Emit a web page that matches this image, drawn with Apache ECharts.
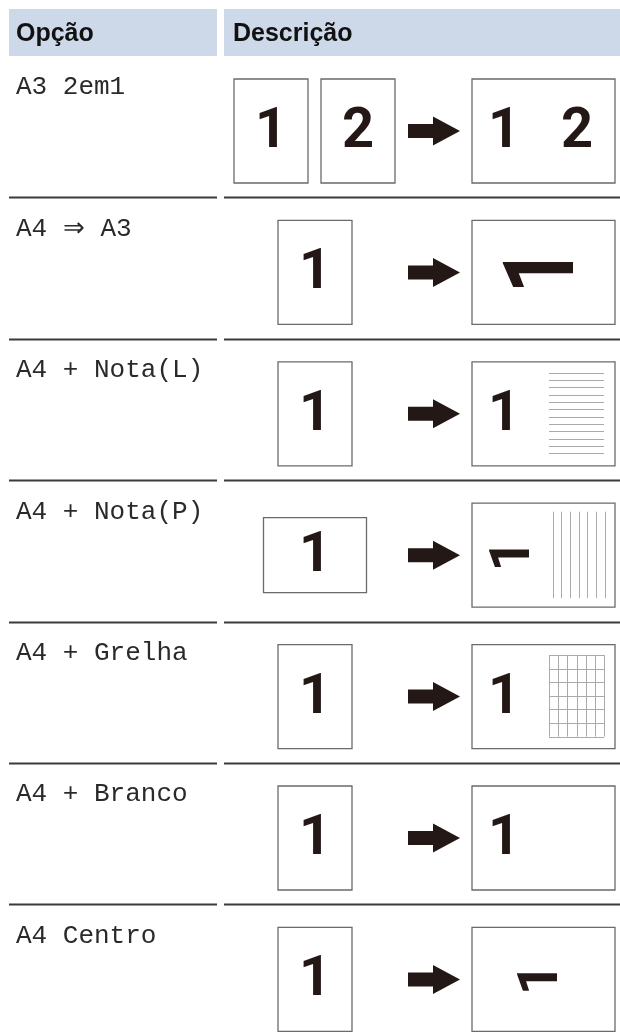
<!DOCTYPE html>
<html><head><meta charset="utf-8">
<script src="https://cdn.jsdelivr.net/npm/echarts@6/dist/echarts.min.js"></script>
<style>html,body{margin:0;padding:0;background:#fff}#c{width:620px;height:1036px}</style>
</head><body><div id="c"></div>
<script>
// ---- content ----
const headers = ['Opção', 'Descrição'];
const options = ['A3 2em1', 'A4 ⇒ A3', 'A4 + Nota(L)', 'A4 + Nota(P)', 'A4 + Grelha', 'A4 + Branco', 'A4 Centro'];
const inputPages = [['1', '2'], ['1'], ['1'], ['1'], ['1'], ['1'], ['1']];
const inputOrient = ['portrait', 'portrait', 'portrait', 'landscape', 'portrait', 'portrait', 'portrait'];
const outputKind = ['twoInOne', 'enlarged', 'noteL', 'noteP', 'grid', 'blank', 'centre'];
const outputDigits = [['1', '2'], ['1'], ['1'], ['1'], ['1'], ['1'], ['1']];
const noteLineCount = { noteL: 12, noteP: 7 };
const gridCells = { cols: 6, rows: 6 };

// ---- layout / style constants ----
const HEAD = { top: 9, bottom: 56, leftX: 9, leftW: 208, rightX: 224, rightW: 396 };
const ROW_H = 141.4;
const INK = '#231815';
const BOX_STROKE = '#6a6a6a';
const SEP = '#3a3a3a';
const HEAD_FILL = '#cdd8e9';
const SANS = 'Liberation Sans';
const DIGITS = 'Roboto';
const MONO = 'Liberation Mono';

const els = [];
function rect(x, y, w, h, style) { els.push({ type: 'rect', shape: { x, y, width: w, height: h }, style }); }
function line(x1, y1, x2, y2, style) { els.push({ type: 'line', shape: { x1, y1, x2, y2 }, style }); }
function text(t, x, y, fam, size, weight, fill, align, opts) {
  const e = Object.assign({
    type: 'text', x, y,
    style: { text: t, x: 0, y: 0, fontFamily: fam, fontSize: size, fontWeight: weight, fill,
      align: align, verticalAlign: 'middle', textAlign: align, textVerticalAlign: 'middle' }
  }, opts || {});
  els.push(e);
}
function page(x, y, w, h) { rect(x, y, w, h, { fill: '#fff', stroke: BOX_STROKE, lineWidth: 1.3 }); }
function digit(t, cx, cy, opts) { text(t, cx, cy + 2, DIGITS, 56, 'bold', INK, 'center', opts); }

// header
rect(HEAD.leftX, HEAD.top, HEAD.leftW, HEAD.bottom - HEAD.top, { fill: HEAD_FILL });
rect(HEAD.rightX, HEAD.top, HEAD.rightW, HEAD.bottom - HEAD.top, { fill: HEAD_FILL });
text(headers[0], 16, 34, SANS, 25, 'bold', '#111', 'left');
text(headers[1], 233, 34, SANS, 25, 'bold', '#111', 'left');

options.forEach((label, i) => {
  const top = HEAD.bottom + ROW_H * i;
  const cy = top + 75;
  text(label, 16, top + 31.5, MONO, 26, 'normal', '#2a2a2a', 'left');
  if (i < options.length - 1) {
    const ly = Math.round(top + ROW_H) + 0.5;
    line(HEAD.leftX, ly, HEAD.leftX + HEAD.leftW, ly, { stroke: SEP, lineWidth: 2 });
    line(HEAD.rightX, ly, HEAD.rightX + HEAD.rightW, ly, { stroke: SEP, lineWidth: 2 });
  }
  // input pages
  const pages = inputPages[i];
  if (pages.length === 2) {
    [234, 321].forEach((x, k) => { page(x, cy - 52, 74, 104); digit(pages[k], x + 37, cy); });
  } else if (inputOrient[i] === 'landscape') {
    page(263.5, cy - 37.5, 103, 75); digit(pages[0], 315, cy);
  } else {
    page(278, cy - 52, 74, 104); digit(pages[0], 315, cy);
  }
  // arrow
  els.push({ type: 'polygon', shape: { points: [[408, cy - 7], [433, cy - 7], [433, cy - 14.5], [460, cy], [433, cy + 14.5], [433, cy + 7], [408, cy + 7]] }, style: { fill: INK } });
  // output page
  const ox = 472, ow = 143, oy = cy - 52, oh = 104;
  page(ox, oy, ow, oh);
  const kind = outputKind[i];
  const od = outputDigits[i];
  if (kind === 'twoInOne') {
    digit(od[0], 504, cy); digit(od[1], 577, cy);
  } else if (kind === 'enlarged') {
    text(od[0], 548.5, top + 73, DIGITS, 56, 'bold', INK, 'center', { rotation: Math.PI / 2, scaleX: 1.45, scaleY: 1.75 });
  } else if (kind === 'noteL') {
    digit(od[0], 504, cy);
    const n = noteLineCount.noteL, y0 = top + 34, y1 = top + 114.5;
    for (let k = 0; k < n; k++) { const y = Math.round(y0 + (y1 - y0) * k / (n - 1)) + 0.5; line(549, y, 604, y, { stroke: '#aaa', lineWidth: 1 }); }
  } else if (kind === 'noteP') {
    text(od[0], 515, top + 75.3, DIGITS, 56, 'bold', INK, 'center', { rotation: Math.PI / 2 });
    const n = noteLineCount.noteP, x0 = 552.6, x1 = 604.7;
    for (let k = 0; k < n; k++) { const x = Math.round(x0 + (x1 - x0) * k / (n - 1)) + 0.5; line(x, top + 31.5, x, top + 118, { stroke: '#aaa', lineWidth: 1 }); }
  } else if (kind === 'grid') {
    digit(od[0], 504, cy);
    const gx0 = 549, gx1 = 604, gy0 = top + 33.5, gy1 = top + 115;
    for (let k = 0; k <= gridCells.cols; k++) { const x = Math.round(gx0 + (gx1 - gx0) * k / gridCells.cols) + 0.5; line(x, gy0, x, gy1, { stroke: '#aaa', lineWidth: 1 }); }
    for (let k = 0; k <= gridCells.rows; k++) { const y = Math.round(gy0 + (gy1 - gy0) * k / gridCells.rows) + 0.5; line(gx0, y, gx1, y, { stroke: '#aaa', lineWidth: 1 }); }
  } else if (kind === 'blank') {
    digit(od[0], 504, cy);
  } else if (kind === 'centre') {
    text(od[0], 543, top + 74.8, DIGITS, 56, 'bold', INK, 'center', { rotation: Math.PI / 2 });
  }
});

const chart = echarts.init(document.getElementById('c'), null, { renderer: 'canvas' });
chart.setOption({ backgroundColor: '#fff', animation: false, graphic: { elements: els } });
</script></body></html>
